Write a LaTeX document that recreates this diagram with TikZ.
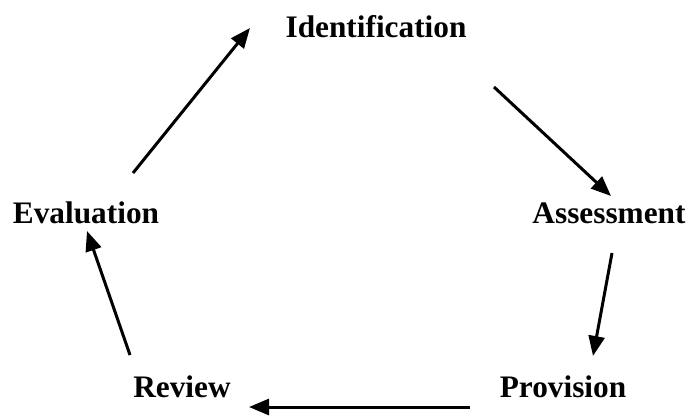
\documentclass[tikz,border=0pt]{standalone}
\usepackage{fontspec}
\setmainfont{Liberation Serif}
\usetikzlibrary{arrows.meta}

\begin{document}
\begin{tikzpicture}[x=1bp,y=-1bp,>={Triangle[length=20bp,width=16bp]},
  stage/.style={font=\fontsize{31.3bp}{36bp}\selectfont\bfseries,inner sep=0pt},
  link/.style={->,line width=3bp}]
  \useasboundingbox (0,0) rectangle (688,415);
  % ---- stages of the cycle
  \node[stage] (ident) at (376,27) {Identification};
  \node[stage] (assess) at (609,213) {Assessment};
  \node[stage] (prov) at (563,387) {Provision};
  \node[stage] (rev) at (182,387) {Review};
  \node[stage] (eval) at (86,213) {Evaluation};
  % ---- arrow ends
  \coordinate (a1) at (133,173); \coordinate (b1) at (250,28);
  \coordinate (a2) at (494,87);  \coordinate (b2) at (611,196);
  \coordinate (a3) at (612,253); \coordinate (b3) at (593,356);
  \coordinate (a4) at (470,407); \coordinate (b4) at (249,407);
  \coordinate (a5) at (130,355); \coordinate (b5) at (87,231);
  \draw[link] (a1) -- (b1);
  \draw[link] (a2) -- (b2);
  \draw[link] (a3) -- (b3);
  \draw[link] (a4) -- (b4);
  \draw[link] (a5) -- (b5);
\end{tikzpicture}
\end{document}
